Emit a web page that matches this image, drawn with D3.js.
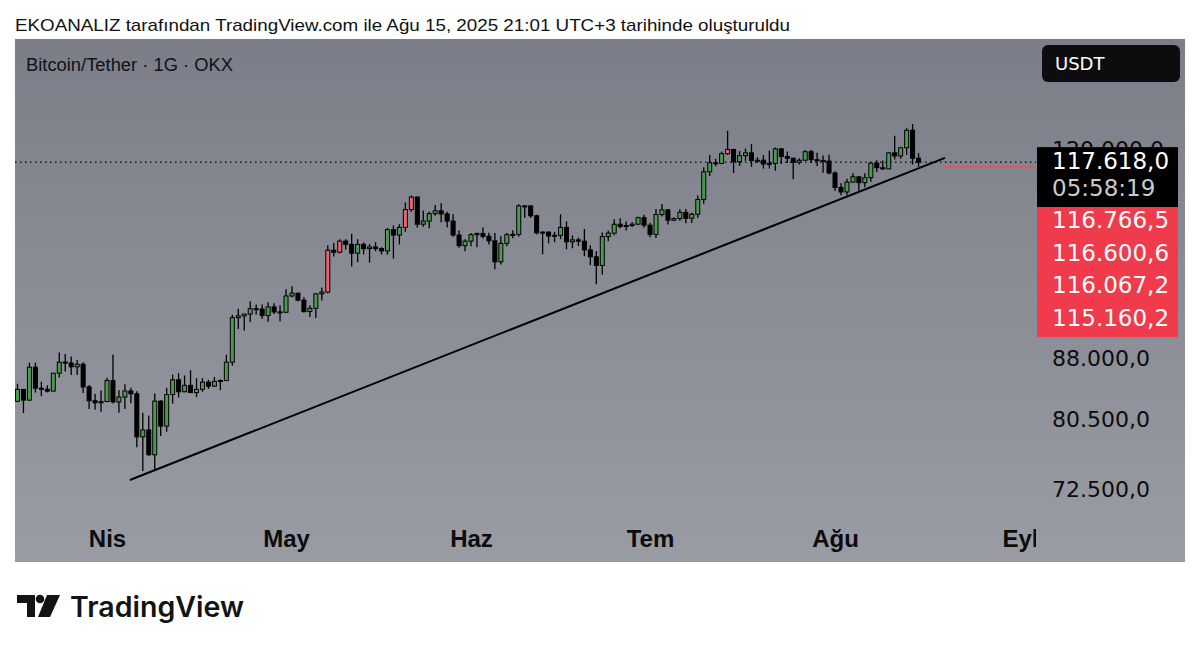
<!DOCTYPE html>
<html>
<head>
<meta charset="utf-8">
<script src="https://cdn.jsdelivr.net/npm/d3@7"></script>
<style>
  body { margin: 0; background: #ffffff; }
  svg { display: block; }
</style>
</head>
<body>
<svg id="chart" width="1200" height="650"></svg>
<script>
// daily candles, 17 Mar 2025 .. 15 Aug 2025
const firstDay = "2025-03-17";
const lastDay = "2025-08-15";

const opens = [
  82580, 84050, 82720, 86850, 84200, 84050, 83830, 86080, 87500, 87400, 86900, 87230, 84350, 82650, 82390,
  82550, 85150, 82500, 83100, 83850, 83500, 78350, 79150, 76300, 82600, 79600, 83400, 85250, 83750, 84550,
  83650, 84050, 84950, 84450, 85050, 85150, 87500, 93450, 93700, 93950, 94700, 94650, 93750, 94950, 94250,
  94200, 96500, 96900, 95900, 94300, 94750, 96800, 97050, 103250, 102950, 104650, 104150, 102800, 104150, 103500,
  103750, 103500, 103150, 106450, 105600, 106800, 109650, 111700, 107300, 107800, 109000, 109450, 108950, 107800, 105600, 103950,
  104650, 105650, 105850, 105400, 104700, 101500, 104300, 105650, 105700, 110250, 110250, 108650, 105950, 106050, 105450,
  105550, 106800, 104550, 104850, 104650, 103300, 102250, 100950, 105350, 105900, 107300, 106950, 107100, 107300, 108350,
  107150, 105700, 108850, 109600, 107950, 108200, 109200, 108250, 108900, 111300, 115950, 117500, 117400, 119100, 119850,
  117700, 118750, 119250, 117900, 117950, 117300, 117400, 119950, 118600, 118300, 117600, 117950, 119450, 118050, 117900, 117800,
  115750, 113300, 112550, 114200, 115100, 114100, 114950, 117450, 116650, 116450, 119250, 118700, 120150, 123300, 118300
];
const highs = [
  84750, 84060, 87450, 87450, 85000, 84550, 86100, 88750, 88550, 88250, 87800, 87500, 84600, 83500, 83900,
  85500, 88500, 83950, 84700, 84250, 83800, 81200, 80850, 83550, 82700, 84250, 85900, 86100, 85800, 86450,
  85450, 85450, 85250, 85600, 85300, 88450, 93850, 94700, 94000, 95750, 95300, 95300, 95600, 95450, 95200,
  97450, 97900, 96950, 96300, 95200, 96900, 97700, 104000, 104350, 104950, 104950, 105800, 104950, 104450, 104200,
  104500, 103700, 106700, 107100, 107300, 110800, 111950, 111800, 109500, 109300, 110400, 110700, 109300, 108900, 106300, 104950,
  105900, 105950, 106800, 105950, 105900, 105400, 105900, 106350, 110500, 110400, 110350, 108800, 106200, 106200, 106100,
  108900, 107750, 105550, 105200, 106550, 104000, 103150, 106000, 106300, 108100, 108250, 107750, 107600, 108500, 108800,
  107550, 109750, 110550, 109750, 108400, 109700, 109750, 109150, 111950, 116750, 118850, 118200, 119450, 123200, 119950,
  119550, 120000, 120850, 118500, 118850, 119650, 120200, 120100, 119500, 118400, 118300, 119750, 119800, 119250, 118800, 118900,
  116050, 114000, 114750, 115700, 115100, 115700, 117650, 117950, 117900, 119300, 122300, 120300, 123650, 124450, 119200
];
const lows = [
  82460, 81150, 82650, 83650, 83200, 83650, 83800, 85550, 86300, 85850, 85850, 83600, 81650, 81550, 81300,
  82450, 82300, 81200, 81650, 82350, 77150, 74500, 76200, 74600, 78450, 78950, 82300, 83050, 83700, 83600,
  83100, 83750, 84100, 84350, 83950, 85100, 87050, 91900, 91700, 92850, 93900, 93250, 92900, 93950, 92950,
  94150, 96300, 95750, 94150, 93550, 93400, 95850, 96900, 102300, 102800, 103350, 100800, 101450, 102600, 101400,
  103100, 102600, 102600, 102000, 104150, 106100, 109300, 106800, 106900, 106650, 108650, 107600, 106800, 105350, 103650, 103100,
  103850, 103700, 105050, 104150, 100400, 101100, 103850, 105100, 105350, 108350, 108300, 105700, 102650, 104300, 104500,
  104950, 103400, 103550, 103900, 102350, 101000, 98200, 99600, 104650, 105550, 106650, 106300, 106850, 107200, 106750,
  105250, 105150, 108550, 107250, 107800, 107850, 107450, 107500, 108350, 110600, 115250, 116900, 117250, 118900, 115750,
  116950, 117850, 116800, 117500, 116500, 116500, 116150, 117300, 117450, 114700, 117200, 117850, 117450, 116950, 115800, 115550,
  112700, 112000, 112000, 114100, 112650, 113350, 114250, 115900, 116300, 116450, 118100, 118200, 118900, 117200, 116800
];
const closes = [
  84050, 82720, 86850, 84200, 84050, 83830, 86080, 87500, 87400, 86900, 87230, 84350, 82650, 82390, 82550,
  85150, 82500, 83100, 83850, 83500, 78350, 79150, 76300, 82600, 79600, 83400, 85250, 83750, 84550, 83650,
  84050, 84950, 84450, 85050, 85150, 87500, 93450, 93700, 93950, 94700, 94650, 93750, 94950, 94250, 94200,
  96500, 96900, 95900, 94300, 94750, 96800, 97050, 103250, 102950, 104650, 104150, 102800, 104150, 103500, 103750,
  103500, 103150, 106450, 105600, 106800, 109650, 111700, 107300, 107800, 109000, 109450, 108950, 107800, 105600, 103950, 104650,
  105650, 105850, 105400, 104700, 101500, 104300, 105650, 105700, 110250, 110250, 108650, 105950, 106050, 105450, 105550,
  106800, 104550, 104850, 104650, 103300, 102250, 100950, 105350, 105900, 107300, 106950, 107100, 107300, 108350, 107150,
  105700, 108850, 109600, 107950, 108200, 109200, 108250, 108900, 111300, 115950, 117500, 117400, 119100, 119850, 117700,
  118750, 119250, 117900, 117950, 117300, 117400, 119950, 118600, 118300, 117600, 117950, 119450, 118050, 117900, 117800, 115750,
  113300, 112550, 114200, 115100, 114100, 114950, 117450, 116650, 116450, 119250, 118700, 120150, 123300, 118300, 117600
];
// candles painted red by the chart's highlight
const highlighted = ["2025-05-08", "2025-05-10", "2025-05-21", "2025-05-22", "2025-07-14"];

const priceTicks = [72500, 80500, 88000, 120000];
const monthNames = ["Oca", "Şub", "Mar", "Nis", "May", "Haz", "Tem", "Ağu", "Eyl", "Eki", "Kas", "Ara"];
const lastPrice = 117618.0;
const countdown = "05:58:19";
const alertPrices = [116766.5, 116600.6, 116067.2, 115160.2];
const trendStart = ["2025-04-04T20:00:00Z", 73500];
const trendEnd = ["2025-08-19T10:00:00Z", 118360];

const titleText = "EKOANALIZ tarafından TradingView.com ile Ağu 15, 2025 21:01 UTC+3 tarihinde oluşturuldu";
const symbolText = "Bitcoin/Tether · 1G · OKX";

const trFormat = d3.formatLocale({ decimal: ",", thousands: ".", grouping: [3], currency: ["", ""] }).format(",.1f");

const svg = d3.select("#chart");
const panel = { left: 15, right: 1185, top: 39, bottom: 562 };
const plotRight = 1036, plotBottom = 522;

const days = d3.utcDay.range(new Date(firstDay), d3.utcDay.offset(new Date(lastDay), 1));
const candles = days.map((d, i) => ({
  date: d, o: opens[i], h: highs[i], l: lows[i], c: closes[i],
  hot: highlighted.includes(d3.utcFormat("%Y-%m-%d")(d))
}));

const x = d3.scaleUtc()
  .domain([new Date("2025-04-01"), new Date("2025-09-01")])
  .range([107, 1020]);
const y = d3.scaleLog()
  .domain([72500, 88000])
  .range([489.3, 358.3]);

// background
const defs = svg.append("defs");
const grad = defs.append("linearGradient").attr("id", "bg").attr("x1", 0).attr("y1", 0).attr("x2", 0).attr("y2", 1);
grad.append("stop").attr("offset", "0%").attr("stop-color", "#7b7d88");
grad.append("stop").attr("offset", "100%").attr("stop-color", "#9a9ca4");
defs.append("clipPath").attr("id", "plotClip").append("rect")
  .attr("x", panel.left).attr("y", panel.top)
  .attr("width", plotRight - panel.left).attr("height", plotBottom - panel.top);
defs.append("clipPath").attr("id", "axisClip").append("rect")
  .attr("x", panel.left).attr("y", plotBottom)
  .attr("width", plotRight - panel.left).attr("height", panel.bottom - plotBottom);

svg.append("rect")
  .attr("x", panel.left).attr("y", panel.top)
  .attr("width", panel.right - panel.left).attr("height", panel.bottom - panel.top)
  .attr("fill", "url(#bg)");

// title
svg.append("text")
  .attr("x", 15).attr("y", 31)
  .attr("textLength", 775).attr("lengthAdjust", "spacingAndGlyphs")
  .style("font", "17px 'Liberation Sans', Arial, sans-serif")
  .attr("fill", "#111")
  .text(titleText);

svg.append("text")
  .attr("x", 26).attr("y", 71)
  .attr("textLength", 207).attr("lengthAdjust", "spacingAndGlyphs")
  .style("font", "18px 'Liberation Sans', Arial, sans-serif")
  .attr("fill", "#111216")
  .text(symbolText);

// price axis labels
svg.append("g").selectAll("text")
  .data(priceTicks)
  .join("text")
  .attr("x", 1052)
  .attr("y", d => y(d) + 8)
  .style("font", "22px 'DejaVu Sans', sans-serif")
  .attr("fill", "#0c0c0e")
  .text(d => trFormat(d));

// plot
const plot = svg.append("g").attr("clip-path", "url(#plotClip)");

plot.append("line")
  .attr("x1", panel.left).attr("x2", plotRight)
  .attr("y1", y(lastPrice)).attr("y2", y(lastPrice))
  .attr("stroke", "#1b1b1f").attr("stroke-width", 1.5)
  .attr("stroke-dasharray", "1.5,3.5");

const candle = plot.append("g").selectAll("g")
  .data(candles)
  .join("g");

candle.append("line")
  .attr("x1", d => x(d.date)).attr("x2", d => x(d.date))
  .attr("y1", d => y(d.h)).attr("y2", d => y(d.l))
  .attr("stroke", "#000").attr("stroke-width", 1.3);

candle.append("rect")
  .attr("x", d => x(d.date) - 2)
  .attr("width", 4)
  .attr("y", d => y(Math.max(d.o, d.c)))
  .attr("height", d => Math.max(1, Math.abs(y(d.o) - y(d.c))))
  .attr("fill", d => d.hot ? "#e8666d" : (d.c >= d.o ? "#4c9a50" : "#000"))
  .attr("stroke", "#000").attr("stroke-width", 1);

plot.append("line")
  .attr("x1", x(new Date(trendStart[0]))).attr("y1", y(trendStart[1]))
  .attr("x2", x(new Date(trendEnd[0]))).attr("y2", y(trendEnd[1]))
  .attr("stroke", "#000").attr("stroke-width", 2);

plot.append("line")
  .attr("x1", 943).attr("x2", plotRight)
  .attr("y1", y(alertPrices[0])).attr("y2", y(alertPrices[0]))
  .attr("stroke", "#e0566a").attr("stroke-width", 2);

// time axis (clip on an untransformed wrapper so Eyl is cut at the price scale)
const xAxis = d3.axisBottom(x)
  .tickValues(d3.utcMonth.range(new Date("2025-04-01"), new Date("2025-09-02")))
  .tickFormat(d => monthNames[d.getUTCMonth()])
  .tickSize(0).tickPadding(0);

const axisG = svg.append("g")
  .attr("clip-path", "url(#axisClip)")
  .append("g")
  .attr("transform", "translate(0,530)")
  .call(xAxis);
axisG.select(".domain").remove();
axisG.selectAll("text")
  .style("font", "bold 24px 'Liberation Sans', Arial, sans-serif")
  .attr("fill", "#0c0c0e");

// price boxes on the right
svg.append("rect")
  .attr("x", 1042).attr("y", 45).attr("width", 138).attr("height", 37).attr("rx", 6)
  .attr("fill", "#0d0d0f");
svg.append("text")
  .attr("x", 1055).attr("y", 70)
  .style("font", "18px 'DejaVu Sans', sans-serif")
  .attr("fill", "#fff")
  .text("USDT");

const boxTop = y(lastPrice) - 15;
svg.append("rect")
  .attr("x", 1037).attr("y", boxTop).attr("width", 141).attr("height", 60)
  .attr("fill", "#000");
svg.append("text")
  .attr("x", 1052).attr("y", boxTop + 22)
  .style("font", "23px 'DejaVu Sans', sans-serif")
  .attr("fill", "#fff")
  .text(trFormat(lastPrice));
svg.append("text")
  .attr("x", 1052).attr("y", boxTop + 49)
  .style("font", "23px 'DejaVu Sans', sans-serif")
  .attr("fill", "#c9c9cc")
  .text(countdown);

const rowH = 32.5;
svg.append("rect")
  .attr("x", 1037).attr("y", boxTop + 60).attr("width", 141).attr("height", rowH * alertPrices.length)
  .attr("fill", "#ef3b4b");
svg.append("g").selectAll("text")
  .data(alertPrices)
  .join("text")
  .attr("x", 1052)
  .attr("y", (d, i) => boxTop + 60 + 21 + i * rowH)
  .style("font", "23px 'DejaVu Sans', sans-serif")
  .attr("fill", "#fff")
  .text(d => trFormat(d));

// TradingView logo
const logo = svg.append("g").attr("fill", "#131313");
logo.append("path").attr("d", "M17,595 H35 V617 H27 V603 H17 Z");
logo.append("circle").attr("cx", 40).attr("cy", 599).attr("r", 4.3);
logo.append("path").attr("d", "M47,595 H60 L50,617 H38 Z");
logo.append("text")
  .attr("x", 70).attr("y", 617)
  .attr("textLength", 174).attr("lengthAdjust", "spacingAndGlyphs")
  .style("font", "600 28px Inter, 'Noto Sans', sans-serif")
  .text("TradingView");
</script>
</body>
</html>
